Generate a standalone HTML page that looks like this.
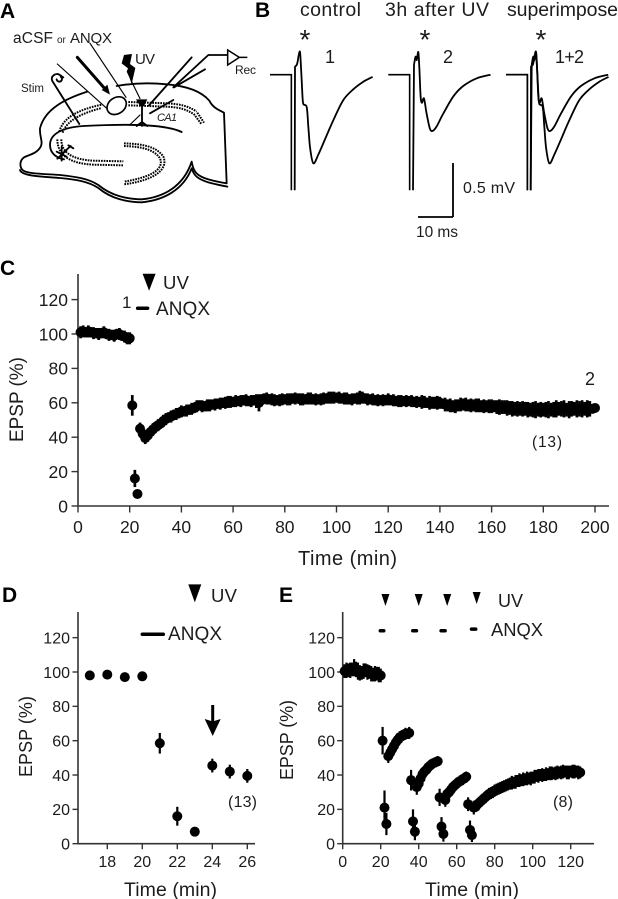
<!DOCTYPE html>
<html>
<head>
<meta charset="utf-8">
<title>EPSP recovery after UV and ANQX</title>
<style>
html,body{margin:0;padding:0;background:#fff;width:618px;height:899px;overflow:hidden}
svg{display:block;filter:blur(.35px)}
text{font-family:"Liberation Sans","Noto Sans CJK JP",sans-serif;fill:#1c1c1c}
.letter{font-weight:bold;font-size:21px;fill:#000}
.draw{fill:none;stroke:#000;stroke-width:5.5;stroke-linecap:round;stroke-linejoin:round}
.dots{fill:none;stroke:#000;stroke-width:6;stroke-dasharray:5 3}
</style>
</head>
<body>
<svg id="fig" xmlns="http://www.w3.org/2000/svg" width="618" height="899" viewBox="0 0 618 899">
  <rect width="618" height="899" fill="#fff"/>

  <text class="letter" x="0" y="18">A</text>
  <text class="letter" x="255" y="17">B</text>
  <text class="letter" x="0" y="275">C</text>
  <text class="letter" x="2" y="602">D</text>
  <text class="letter" x="279" y="602">E</text>

  <!-- Panel A: hippocampal slice schematic -->
  <g id="panel-a">
    <g transform="scale(0.33333)">
      <path class="draw" d="M262,275 C200,295 135,325 120,385 C118,410 130,425 122,440 C110,462 85,465 72,472 C58,482 58,503 70,512 C85,522 140,522 180,525 C225,530 265,535 295,555 C335,588 380,597 425,598 C490,592 550,560 575,485 C580,515 590,528 625,538 C650,545 668,548 680,550 L672,338 C655,330 638,322 628,302 C605,275 560,258 500,253 C450,248 395,250 350,258"/>
      <path class="draw" d="M60,510 C65,530 140,530 180,534 C225,538 265,544 295,564 C335,597 380,606 425,607 C490,601 550,570 575,505 C582,528 595,538 625,547 C650,554 668,557 682,560"/>
      <path class="draw" d="M545,396 C500,374 400,370 250,378 C190,382 150,400 150,435 C150,460 170,474 192,478"/>
      <path class="dots" d="M178,395 C190,350 240,328 305,314"/>
      <path class="dots" d="M188,398 C200,360 250,338 305,324"/>
      <path class="dots" d="M385,306 L500,310 C540,312 565,318 590,335"/>
      <path class="dots" d="M385,316 L500,320 C540,322 560,328 585,345"/>
      <path class="dots" d="M592,338 L612,368 M586,348 L604,372"/>
      <path class="dots" d="M172,418 C172,455 195,490 280,494 L370,496"/>
      <path class="dots" d="M184,418 C184,450 205,478 280,482 L370,484"/>
      <path class="dots" d="M372,430 C430,432 470,440 490,470 C505,505 470,540 372,553"/>
      <path class="dots" d="M372,438 C425,440 462,448 480,475 C492,505 462,530 372,545"/>
      <path class="draw" d="M238,372 L157,243 C150,228 168,218 178,224 L190,232 M170,238 a8,8 0 1,0 12,-8"/>
      <path class="draw" style="stroke-width:3.5" d="M172,192 L320,325"/>
      <path class="draw" style="stroke-width:3.5" d="M270,130 L378,292"/>
      <ellipse cx="350" cy="317" rx="31" ry="24" transform="rotate(-35 350 317)" fill="#fff" stroke="#000" stroke-width="5"/>
      <path class="draw" style="stroke-width:9" d="M232,172 L318,270"/>
      <path fill="#000" d="M330,284 L305,270 L322,254 Z"/>
      <path fill="#000" d="M372,165 L396,162 L390,192 L406,204 L395,252 L388,232 L380,215 L384,205 L365,190 Z"/>
      <path class="draw" style="stroke-width:3.5" d="M395,245 L420,296"/>
      <path fill="#000" d="M408,298 L442,298 L432,318 L420,318 Z"/>
      <path class="draw" d="M426,310 L426,378 M410,378 L426,366 L442,378"/>
      <path class="draw" d="M447,316 L575,172 M450,340 L520,300 M520,262 L625,165 L682,165 M522,262 L615,208"/>
      <path class="draw" style="stroke-width:3.5" d="M392,372 L420,345"/>
      <path d="M683,150 L718,172 L683,195 Z M718,172 L742,172" fill="#fff" stroke="#000" stroke-width="4.5"/>
      <path class="draw" d="M170,455 L200,470 M200,450 L172,476 M185,440 L185,482 M190,458 L212,438 M205,436 L220,445"/>
    </g>
    <text x="13" y="43" font-size="15.5" textLength="40" lengthAdjust="spacing">aCSF</text>
    <text x="57" y="43" font-size="10">or</text>
    <text x="70" y="43" font-size="15" textLength="42" lengthAdjust="spacing">ANQX</text>
    <text x="135" y="64" font-size="15" textLength="20" lengthAdjust="spacing">UV</text>
    <text x="21" y="92" font-size="11.5" textLength="23" lengthAdjust="spacing">Stim</text>
    <text x="157" y="121" font-size="11" font-style="italic" textLength="20" lengthAdjust="spacing">CA1</text>
    <text x="235" y="74" font-size="12" textLength="21" lengthAdjust="spacing">Rec</text>
  </g>

  <!-- Panel B labels -->
  <text x="300" y="16" font-size="19.5" textLength="61" lengthAdjust="spacing">control</text>
  <text x="385" y="16" font-size="19.5" textLength="104" lengthAdjust="spacing">3h after UV</text>
  <text x="507" y="16" font-size="19.5" textLength="111" lengthAdjust="spacing">superimpose</text>
  <text x="305" y="49" font-size="28" text-anchor="middle">*</text>
  <text x="425" y="49" font-size="28" text-anchor="middle">*</text>
  <text x="541" y="49" font-size="28" text-anchor="middle">*</text>
  <text x="330" y="63" font-size="18" text-anchor="middle">1</text>
  <text x="448" y="63" font-size="18" text-anchor="middle">2</text>
  <text x="555" y="63" font-size="18" textLength="29" lengthAdjust="spacing">1+2</text>
  <text x="463" y="193" font-size="16" textLength="52" lengthAdjust="spacing">0.5 mV</text>
  <text x="416" y="237" font-size="15.5" textLength="42" lengthAdjust="spacing">10 ms</text>
  <g id="panel-b"></g>

  <!-- Panel C annotations -->
  <g id="panel-c"></g>
  <text x="163" y="289" font-size="18.5" textLength="26" lengthAdjust="spacing">UV</text>
  <text x="122" y="308" font-size="17">1</text>
  <text x="156" y="315" font-size="19" textLength="54" lengthAdjust="spacing">ANQX</text>
  <text x="585" y="385" font-size="18">2</text>
  <text x="532" y="447" font-size="15.5" textLength="30" lengthAdjust="spacing">(13)</text>
  <text x="298" y="565" font-size="20" textLength="99" lengthAdjust="spacing">Time (min)</text>
  <text transform="translate(23,442) rotate(-90)" font-size="19" textLength="85" lengthAdjust="spacing">EPSP (%)</text>

  <!-- Panel D annotations -->
  <g id="panel-d"></g>
  <text x="211" y="602" font-size="18.5" textLength="26" lengthAdjust="spacing">UV</text>
  <text x="168" y="640" font-size="19" textLength="54" lengthAdjust="spacing">ANQX</text>
  <path d="M211.2,705 H214.2 V721 L220.7,719 L212.7,736 L204.7,719 L211.2,721 Z" fill="#000"/>
  <text x="228" y="807" font-size="16" textLength="29" lengthAdjust="spacing">(13)</text>
  <text x="124" y="896" font-size="19.5" textLength="93" lengthAdjust="spacing">Time (min)</text>
  <text transform="translate(32,777) rotate(-90)" font-size="18" textLength="81" lengthAdjust="spacing">EPSP (%)</text>

  <!-- Panel E annotations -->
  <g id="panel-e"></g>
  <text x="498" y="607" font-size="18" textLength="25" lengthAdjust="spacing">UV</text>
  <text x="491" y="636" font-size="18.4" textLength="52" lengthAdjust="spacing">ANQX</text>
  <text x="553" y="807" font-size="16" textLength="20" lengthAdjust="spacing">(8)</text>
  <text x="425" y="896" font-size="19.5" textLength="94" lengthAdjust="spacing">Time (min)</text>
  <text transform="translate(293,780) rotate(-90)" font-size="18" textLength="80" lengthAdjust="spacing">EPSP (%)</text>
</svg>

<script>
// ---------- Shared tick labels ----------
const yTickLabels = [0, 20, 40, 60, 80, 100, 120];
const xTickLabelsC = [0, 20, 40, 60, 80, 100, 120, 140, 160, 180, 200];
const xTickLabelsD = [18, 20, 22, 24, 26];
const xTickLabelsE = [0, 20, 40, 60, 80, 100, 120];

// ---------- Panel B: traces, [ms, mV] ----------
const traceControlTime = [7.05, 7.14, 7.62, 7.9, 8.19, 8.57, 8.86, 9.24, 9.52, 10.48, 10.95, 11.43, 12.38, 13.8, 15.7, 18.1, 20.95, 23.8, 26.67, 29.3];
const traceControlMv = [-1.07, 0.074, 0.09, 0.12, 0.18, 0.21, 0.07, -0.17, -0.27, -0.30, -0.48, -0.67, -0.82, -0.74, -0.6, -0.42, -0.235, -0.135, -0.065, -0.02];
const traceUvTime = [7.05, 7.33, 7.8, 8.1, 8.57, 8.86, 9.24, 9.6, 10.2, 10.95, 11.9, 12.67, 13.8, 15.7, 18.6, 21.4, 25.2, 29.2];
const traceUvMv = [-1.07, 0.09, 0.167, 0.136, 0.21, 0.07, -0.2, -0.26, -0.22, -0.36, -0.5, -0.52, -0.48, -0.36, -0.2, -0.105, -0.034, 0];
const baselineEndMs = 6.1;
const artefactTroughMv = -1.07;
const scaleBarMv = 0.5;
const scaleBarMs = 10;

// ---------- Panel C: EPSP %, one sample per minute from t = 1 ----------
const epspC = [101,101.5,101,101.5,101,100.5,100.5,100,100.5,101,100,99.5,99.5,99,100,100,99,98.5,97.5,97.5,
58.5,16,7,45,42,39.5,41,43,44.5,46,47,48,49.5,50.5,51.5,52,53,53.5,54,55,55,55.5,56,56.5,57,58,58.5,58,58,58.5,58.5,59,59,
59.5,59.5,60,60,60.5,60.5,60.5,61,61,61,61.5,61.5,61,61,61.5,61,60,61.5,62.5,62.5,62,62,61.5,61.5,61.5,62,62,62,62,62.5,
62.5,62.5,62,62,62,62.5,62.5,62,62,62,62,62.5,62.5,63,63,63,63,63,62.5,62.5,62.5,62,62,62.5,62.5,63,63,62.5,62,62,62,61.5,
61.5,61.5,61.5,61.5,62,61.5,61.5,61,61,61,61,61,61,61,60.5,60.5,60.5,60.5,60.5,60,60,60,60,60,60,59.5,59,58.5,58.5,58,58,
58.5,59,59,59,58.5,58.5,58.5,58.5,58.5,58,58,58,58,58,58,57.5,57.5,57.5,57.5,57,57,56.5,56.5,56.5,56.5,56.5,56.5,56,56,56,
56,56,56,56,56,56,56,56,56.5,56.5,56.5,56.5,56,56,56.5,56.5,56.5,56.5,56.5,56.5,56.5,56.5,56.5,57];
const errC = [3.5,3.5,3,3.5,3,3.5,3,3.5,3,3.5,3,3.5,3,3.5,3,3.5,3,3.5,3.5,3.5,
6,5,1,3.5,3.5,3.5,3.5,3,3.5,3,3.5,3,3.5,3.5,3,3.5,3,3.5,3,3.5,3,3.5,3,3.5,3,3.5,3,3.5,3,3.5,3.5,3,3.5,
3,3.5,3,3.5,3.5,3.5,3,3.5,3,3.5,3,3.5,3,3.5,3,4,5,3.5,3,3.5,3,3.5,3.5,3,3.5,3.5,3,3.5,3.5,3,
3.5,3,3.5,3.5,3,3.5,3.5,3,3.5,3,3.5,3.5,3,3.5,3.5,3.5,3,3.5,3,3.5,3.5,3,3.5,3,3.5,4,3.5,3,3.5,3,
3.5,3,3.5,3,3.5,3,3.5,3,3.5,3,3.5,3.5,3,3.5,3,3.5,3,3.5,3,4,3.5,3,4,3.5,3.5,4,3.5,3,4,3.5,
4,3.5,4,3.5,4,3.5,4,3.5,4,3.5,4,4,3.5,4,3.5,4,4,3.5,4,4.5,4,4,4.5,4,4.5,4,4.5,4,4.5,4,
4.5,4,4.5,5,4,4.5,4,4.5,5,4,4.5,5,4,4.5,5,4,5,4.5,4,5,4.5,5,4,5,4.5];
const uvTimeC = 27.5;
const uvLevelC = 135;
const anqxStartC = 22.5;
const anqxEndC = 27.5;
const anqxLevelC = 115;

// ---------- Panel D: zoomed early time course ----------
const timeD = [17, 18, 19, 20, 21, 22, 23, 24, 25, 26];
const epspD = [98, 98.5, 97, 97.5, 58.5, 16, 7, 45.5, 42, 39.5];
const errD = [2, 2, 2.5, 2, 6, 5.5, 1, 4, 4, 4];
const uvTimeD = 23;
const uvLevelD = 151;
const anqxStartD = 20;
const anqxEndD = 21.2;
const anqxLevelD = 122;

// ---------- Panel E: repeated UV, one sample per minute from t = 1 ----------
const epspE = [100.5,101,101,101,101.5,102.5,101.5,100.5,99.5,99.5,100.5,101,100,100,99,98.5,99,99,98.5,98,
60,21,11.5,51,53,55,57,59,60.5,62,62.5,63.5,64,64,64.5,
37,13,7,33,35,38,40.5,42,43,44.5,45.5,46.5,47,47.5,48,
27,10,5.7,25.5,29,30,31.5,33,34,35,36,36.5,37.5,38,39,
23,8,5,21,21.5,23,24,25,26,27,28,29,29.5,30,31,31.5,32,32.5,33,33.5,34,34.5,35,35.5,35.5,36,36.5,37,37,37.5,37.5,38,38,38,38.5,
39,39.5,39.5,40,40,40,40.5,40.5,41,41,41,41,41.5,41.5,41.5,42,42,41.5,41.5,42,42,42,42,41.5,41.5];
const errE = [4,4.5,4,4.5,4,5,4.5,5,4.5,4,4.5,4,4.5,4,4.5,4,4.5,4,4.5,4,
8,10,6.5,4,4,3.5,3.5,3.5,3.5,3.5,3.5,3,3.5,3,3.5,
6,7,5,4.5,3.5,3.5,3,3,3,3,3,3,3,3,3,
5,5.5,4.5,4,3,3,3,3,3,3,3,3,3,3,3,
4,5.5,4,4,3,3,3,3.5,3,3.5,3,3.5,3.5,3.5,3.5,3.5,3.5,3.5,3.5,3.5,3.5,3.5,3.5,4,3.5,4,3.5,4,3.5,4,3.5,4,3.5,4,3.5,
4,3.5,4,3.5,4,3.5,4,3.5,4,4,3.5,4,4,3.5,4,4,3.5,4,4,3.5,4,4,3.5,4,3.5];
const uvTimesE = [22.5, 40, 55, 70.5];
const uvLevelsE = [145.4, 145.4, 145.4, 146.6];
const anqxStartsE = [19, 36.1, 51, 67];
const anqxEndsE = [22.4, 39.6, 54.7, 70.8];
const anqxLevelsE = [124, 124, 124, 125];

// ---------- Axis functions ----------
const xC = t => 78 + 2.585 * t;
const yC = v => 506 - 1.72 * v;
const xD = t => 107.3 + 17.5 * (t - 18);
const yD = v => 843.7 - 1.717 * v;
const xE = t => 342.7 + 1.9 * t;
const yE = v => 843.7 - 1.717 * v;
const xBms = (origin, ms) => origin + 3.5 * ms;
const yBmv = mv => 74.7 - 108 * mv;

const NS = 'http://www.w3.org/2000/svg';
function mk(tag, parent, props) {
  const el = document.createElementNS(NS, tag);
  for (const k in props) el.setAttribute(k, props[k]);
  parent.appendChild(el);
  return el;
}

function drawAxes(g, xFn, yFn, opts) {
  const yAxis = mk('line', g, {x1: opts.left, x2: opts.left, y1: opts.top, y2: yFn(0), stroke: '#333', 'stroke-width': 1.6});
  
  
  const xAxis = mk('line', g, {x1: opts.left, x2: opts.right, y1: yFn(0), y2: yFn(0), stroke: '#333', 'stroke-width': 1.6});
  
  
  yTickLabels.forEach(v => {
    const tick = mk('line', g, {x1: opts.left - opts.tick, x2: opts.left, y1: yFn(v), y2: yFn(v), stroke: '#333', 'stroke-width': 1.4});
    
    
    const label = mk('text', g, {x: opts.yLabelX, y: yFn(v) + opts.font * 0.36, 'font-size': opts.font, 'text-anchor': 'end'});
    label.textContent = v;
    
    
  });
  opts.xTicks.forEach(t => {
    const tick = mk('line', g, {x1: xFn(t), x2: xFn(t), y1: yFn(0), y2: yFn(0) + opts.tick, stroke: '#333', 'stroke-width': 1.4});
    
    
    const label = mk('text', g, {x: xFn(t), y: opts.xLabelY, 'font-size': opts.font, 'text-anchor': 'middle'});
    label.textContent = t;
    
    
  });
}

function drawPoints(g, times, values, errs, xFn, yFn, r, barWidth) {
  values.forEach((v, i) => {
    const t = times ? times[i] : i + 1;
    const bar = mk('line', g, {x1: xFn(t), x2: xFn(t), y1: yFn(v + errs[i]), y2: yFn(v - errs[i]), stroke: '#000', 'stroke-width': barWidth});
    
    
    const dot = mk('circle', g, {cx: xFn(t), cy: yFn(v), r: r, fill: '#000'});
    
    
  });
}

function drawUv(g, xCenter, yTop, halfWidth, height) {
  const pts = (xCenter - halfWidth) + ',' + yTop + ' ' + (xCenter + halfWidth) + ',' + yTop + ' ' + xCenter + ',' + (yTop + height);
  const tri = mk('polygon', g, {points: pts, fill: '#000'});
  
  
}

function drawAnqx(g, x1, x2, y, w) {
  const bar = mk('line', g, {x1: x1, x2: x2, y1: y, y2: y, stroke: '#000', 'stroke-width': w, 'stroke-linecap': 'round'});
  
  
}

// Panel C
const gC = document.getElementById('panel-c');
drawAxes(gC, xC, yC, {left: 78, right: 609, top: 274, tick: 6.5, font: 17.5, yLabelX: 68, xLabelY: 533, xTicks: xTickLabelsC});
drawPoints(gC, null, epspC, errC, xC, yC, 5, 2.7);
drawUv(gC, xC(uvTimeC), yC(uvLevelC), 6.5, 17);
drawAnqx(gC, xC(anqxStartC) + 1.5, xC(anqxEndC) - 1.5, yC(anqxLevelC), 3.5);

// Panel D
const gD = document.getElementById('panel-d');
drawAxes(gD, xD, yD, {left: 78, right: 255, top: 612, tick: 5.5, font: 16, yLabelX: 70, xLabelY: 867, xTicks: xTickLabelsD});
drawPoints(gD, timeD, epspD, errD, xD, yD, 5, 2.2);
drawUv(gD, xD(uvTimeD), yD(uvLevelD), 6.5, 18);
drawAnqx(gD, xD(anqxStartD), xD(anqxEndD), yD(anqxLevelD), 3.5);

// Panel E
const gE = document.getElementById('panel-e');
drawAxes(gE, xE, yE, {left: 342.7, right: 594, top: 612, tick: 5.5, font: 16, yLabelX: 335, xLabelY: 867, xTicks: xTickLabelsE});
drawPoints(gE, null, epspE, errE, xE, yE, 5, 2.2);
uvTimesE.forEach((t, i) => drawUv(gE, xE(t), yE(uvLevelsE[i]), 4, 12));
anqxStartsE.forEach((s, i) => drawAnqx(gE, xE(s) + 1.5, xE(anqxEndsE[i]) - 1.5, yE(anqxLevelsE[i]), 3.5));

// Panel B
const gB = document.getElementById('panel-b');
function smoothPath(pts) {
  // Catmull-Rom through the sampled trace points
  let d = 'M' + pts[0][0].toFixed(1) + ',' + pts[0][1].toFixed(1) + ' L' + pts[1][0].toFixed(1) + ',' + pts[1][1].toFixed(1);
  for (let i = 1; i < pts.length - 1; i++) {
    const p0 = pts[Math.max(i - 1, 1)], p1 = pts[i], p2 = pts[i + 1], p3 = pts[Math.min(i + 2, pts.length - 1)];
    const c1x = p1[0] + (p2[0] - p0[0]) / 6, c1y = p1[1] + (p2[1] - p0[1]) / 6;
    const c2x = p2[0] - (p3[0] - p1[0]) / 6, c2y = p2[1] - (p3[1] - p1[1]) / 6;
    d += ' C' + c1x.toFixed(1) + ',' + c1y.toFixed(1) + ' ' + c2x.toFixed(1) + ',' + c2y.toFixed(1) + ' ' + p2[0].toFixed(1) + ',' + p2[1].toFixed(1);
  }
  return d;
}
function drawTrace(origin, times, mvs, name) {
  const pre = mk('path', gB, {
    d: 'M' + xBms(origin, 0) + ',' + yBmv(0) + ' L' + xBms(origin, baselineEndMs) + ',' + yBmv(0) + ' L' + xBms(origin, baselineEndMs) + ',' + yBmv(artefactTroughMv),
    fill: 'none', stroke: '#000', 'stroke-width': 1.6
  });
  
  
  const pts = times.map((t, i) => [xBms(origin, t), yBmv(mvs[i])]);
  const path = mk('path', gB, {d: smoothPath(pts), fill: 'none', stroke: '#000', 'stroke-width': 1.8, 'stroke-linejoin': 'round'});
  
  
}
drawTrace(270, traceControlTime, traceControlMv, 'control-trace');
drawTrace(388.3, traceUvTime, traceUvMv, 'after-uv-trace');
drawTrace(506, traceControlTime, traceControlMv, 'superimposed-control-trace');
drawTrace(506, traceUvTime, traceUvMv, 'superimposed-after-uv-trace');
const vBar = mk('line', gB, {x1: 453, x2: 453, y1: 217 - scaleBarMv * 108, y2: 217, stroke: '#000', 'stroke-width': 1.8});


const hBar = mk('line', gB, {x1: 453 - scaleBarMs * 3.5, x2: 453, y1: 217, y2: 217, stroke: '#000', 'stroke-width': 1.8});


</script>
</body>
</html>
